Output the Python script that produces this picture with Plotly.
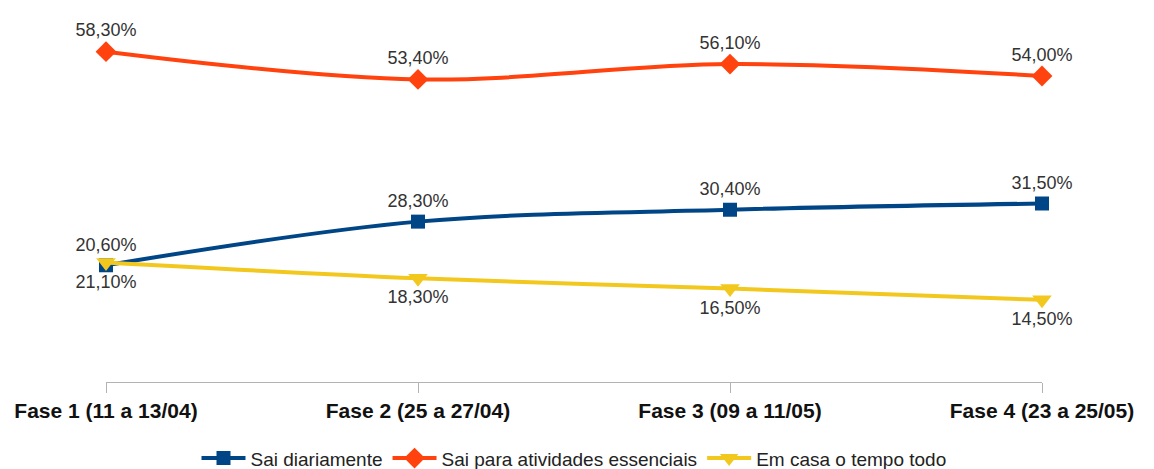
import plotly.graph_objects as go

categories = ["Fase 1 (11 a 13/04)", "Fase 2 (25 a 27/04)", "Fase 3 (09 a 11/05)", "Fase 4 (23 a 25/05)"]
sai_diariamente = [20.6, 28.3, 30.4, 31.5]
sai_essenciais = [58.3, 53.4, 56.1, 54.0]
em_casa = [21.1, 18.3, 16.5, 14.5]

def fmt(v):
    return f"{v:.2f}".replace(".", ",") + "%"

x = list(range(len(categories)))
fig = go.Figure()

FONT = "Liberation Sans, Arial, sans-serif"
series = [
    ("Sai diariamente", sai_diariamente, "#004586", "square", 14, "top center"),
    ("Sai para atividades essenciais", sai_essenciais, "#ff420e", "diamond", 16, "top center"),
    ("Em casa o tempo todo", em_casa, "#f2c81e", "triangle-down", 17, "bottom center"),
]
for name, vals, color, sym, msize, tpos in series:
    fig.add_trace(go.Scatter(
        x=x, y=vals, name=name, mode="lines+markers+text",
        line=dict(color=color, width=4, shape="spline", smoothing=1),
        marker=dict(symbol=sym, size=msize, color=color),
        text=[fmt(v) for v in vals], textposition=tpos,
        textfont=dict(family=FONT, size=18, color="#333333"),
        cliponaxis=False,
    ))

fig.update_layout(
    width=1154, height=469,
    margin=dict(l=98, r=120, t=34, b=95, autoexpand=False),
    paper_bgcolor="white", plot_bgcolor="white",
    font=dict(family=FONT, size=18, color="#333333"),
    showlegend=True,
    legend=dict(orientation="h", x=0.5, xanchor="center",
                yref="container", y=0.04, yanchor="middle",
                font=dict(family=FONT, size=19, color="#222222"), itemwidth=44),
    xaxis=dict(range=[0, 3], tickmode="array", tickvals=x,
               ticktext=["<b>" + c + "</b>" for c in categories],
               showline=True, linecolor="#b3b3b3", linewidth=1,
               ticks="outside", ticklen=10, tickcolor="#b3b3b3",
               showgrid=False, zeroline=False,
               tickfont=dict(family=FONT, size=21, color="#111111")),
    yaxis=dict(range=[0, 60], visible=False, showgrid=False, zeroline=False),
)

fig.write_html("out.html")
